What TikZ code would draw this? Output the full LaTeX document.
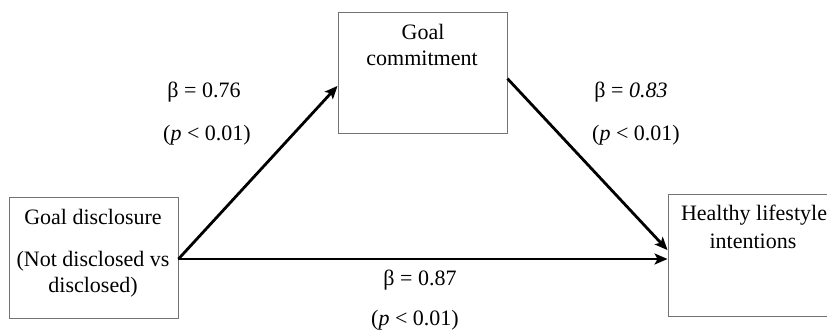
\documentclass[tikz,border=0pt]{standalone}
\usepackage{fontspec}
\setmainfont{Liberation Serif}
\usetikzlibrary{arrows.meta,calc}
\begin{document}
\begin{tikzpicture}[x=1pt,y=-1pt,
  box/.style={draw=black!55, line width=0.9pt, rectangle, inner sep=0pt},
  txt/.style={inner sep=0pt, font=\fontsize{22}{26}\selectfont, anchor=base},
  conn/.style={line width=2.8pt, -{Stealth[length=13pt,width=11pt,inset=3pt]}}]
\useasboundingbox (0,0) rectangle (827,333);
\clip (0,0) rectangle (827,333);
% boxes
\node[box, minimum width=169pt, minimum height=121pt] (gd) at (93.5,257.5) {};
\node[box, minimum width=169pt, minimum height=121pt] (gc) at (422.5,72.5) {};
\node[box, minimum width=170pt, minimum height=122pt] (hi) at (753,255) {};
% box texts
\node[txt] (gd1) at (93,224) {Goal disclosure};
\node[txt] (gd2) at (93,266) {(Not disclosed vs};
\node[txt] (gd3) at (93,292) {disclosed)};
\node[txt] (gc1) at (423,39) {Goal};
\node[txt] (gc2) at (422,65) {commitment};
\node[txt] (hi1) at (754,220) {Healthy lifestyle};
\node[txt] (hi2) at (753,248) {intentions};
% labels
\node[txt] (l1a) at (204,97) {β = 0.76};
\node[txt] (l1b) at (207,140) {(\textit{p} < 0.01)};
\node[txt] (l2a) at (631,97) {β = \textit{0.83}};
\node[txt] (l2b) at (636,140) {(\textit{p} < 0.01)};
\node[txt] (l3a) at (420,285) {β = 0.87};
\node[txt] (l3b) at (415,325) {(\textit{p} < 0.01)};
% connectors
\coordinate (s) at ($(gd.east)+(0,1.5)$);
\draw[conn] (s) -- ($(gc.north west)!0.61!(gc.south west)$);
\draw[conn] (s) -- (s -| hi.west);
\draw[conn] ($(gc.north east)!0.55!(gc.south east)$) -- ($(hi.north west)!0.46!(hi.south west)$);
\end{tikzpicture}
\end{document}
